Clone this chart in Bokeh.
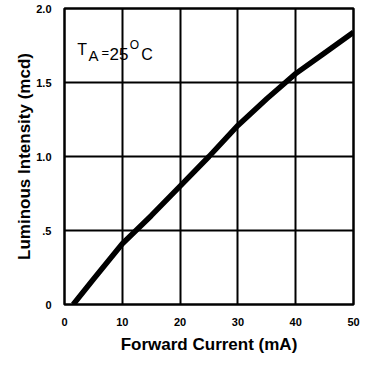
from bokeh.plotting import figure
from bokeh.models import Range1d, FixedTicker, Label
from bokeh.embed import file_html
from bokeh.resources import INLINE

# Data
current_ma = [1.5, 5, 10, 15, 20, 25, 30, 35, 40, 45, 50]
intensity_mcd = [0.0, 0.17, 0.41, 0.60, 0.80, 1.0, 1.21, 1.39, 1.56, 1.70, 1.84]

x_ticks = [0, 10, 20, 30, 40, 50]
y_ticks = [0, 0.5, 1.0, 1.5, 2.0]
y_tick_labels = {0: "0", 0.5: ".5", 1.0: "1.0", 1.5: "1.5", 2.0: "2.0"}

FONT = "Liberation Sans"

p = figure(width=361, height=356, output_backend="svg", toolbar_location=None,
           x_range=Range1d(0, 50), y_range=Range1d(0, 2.0),
           min_border_left=64, min_border_right=8, min_border_top=8, min_border_bottom=0)

p.line(current_ma, intensity_mcd, line_color="black", line_width=5.5)

for ax in (p.xaxis, p.yaxis):
    ax.major_tick_line_color = None
    ax.minor_tick_line_color = None
    ax.axis_line_color = None
    ax.major_label_text_font = FONT
    ax.major_label_text_font_style = "bold"
    ax.major_label_text_font_size = "11px"
    ax.major_label_text_color = "black"
    ax.axis_label_text_font = FONT
    ax.axis_label_text_font_style = "bold"
    ax.axis_label_text_font_size = "17px"
    ax.axis_label_text_color = "black"

p.xaxis.ticker = FixedTicker(ticks=x_ticks)
p.yaxis.ticker = FixedTicker(ticks=y_ticks)
p.yaxis.major_label_overrides = y_tick_labels
p.xaxis.major_label_standoff = 7
p.yaxis.major_label_standoff = 7
p.xaxis.axis_label = "Forward Current (mA)"
p.yaxis.axis_label = "Luminous Intensity (mcd)"
p.xaxis.axis_label_standoff = 6
p.yaxis.axis_label_standoff = -1

p.xgrid.ticker = FixedTicker(ticks=x_ticks)
p.ygrid.ticker = FixedTicker(ticks=y_ticks)
for g in (p.xgrid, p.ygrid):
    g.grid_line_color = "black"
    g.grid_line_width = 2
    g.grid_line_alpha = 1.0

p.outline_line_color = "black"
p.outline_line_width = 2.5
p.background_fill_color = "white"
p.border_fill_color = "white"

# Annotation T_A = 25°C
common = dict(x_units="data", y_units="data", text_font=FONT, text_color="black",
              text_baseline="alphabetic")
p.add_layout(Label(x=2.2, y=1.726, text="T", text_font_size="16px", **common))
p.add_layout(Label(x=4.15, y=1.68, text="A", text_font_size="15px", **common))
p.add_layout(Label(x=6.4, y=1.70, text="=", text_font_size="13px", **common))
p.add_layout(Label(x=7.8, y=1.694, text="25", text_font_size="17px", **common))
p.add_layout(Label(x=11.3, y=1.752, text="O", text_font_size="12px", **common))
p.add_layout(Label(x=13.3, y=1.687, text="C", text_font_size="16px", **common))

open("out.html", "w").write(file_html(p, INLINE))
